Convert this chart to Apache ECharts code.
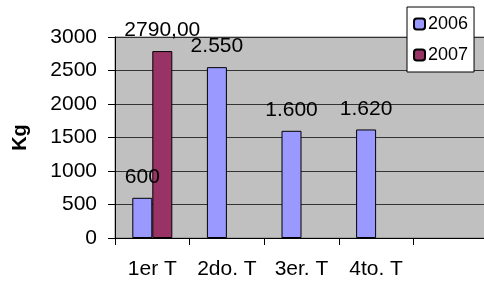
<!DOCTYPE html>
<html>
<head>
<meta charset="utf-8">
<script src="https://cdn.jsdelivr.net/npm/echarts@6/dist/echarts.min.js"></script>
<style>
  html, body { margin: 0; padding: 0; background: #fff; }
  #chart { width: 484px; height: 284px; }
</style>
</head>
<body>
<div id="chart"></div>
<script>
// trimestres (the last slot is empty in the original)
const quarters = ['1er T', '2do. T', '3er. T', '4to. T', ''];
const kg2006 = [600, 2550, 1600, 1620, null];
const kg2007 = [2790, null, null, null, null];
// labels exactly as printed on the bars
const labels2006 = ['600', '2.550', '1.600', '1.620', ''];
const labels2007 = ['2790,00', '', '', '', ''];

const FONT = '"Liberation Sans", Arial, sans-serif';

const barLabel = texts => ({
  show: true,
  position: 'top',
  distance: 10,
  color: '#000',
  fontFamily: FONT,
  fontSize: 21,
  formatter: p => texts[p.dataIndex]
});

const myChart = echarts.init(document.getElementById('chart'));
myChart.setOption({
  animation: false,
  grid: {
    left: 115, width: 373, top: 37, bottom: 46,
    outerBoundsMode: 'none',
    containLabel: false,
    show: true, backgroundColor: '#c0c0c0', borderColor: '#808080', borderWidth: 1
  },
  legend: {
    orient: 'vertical',
    left: 407, top: 7,
    padding: [8, 6, 8, 6],
    itemGap: 13,
    itemWidth: 11, itemHeight: 11,
    backgroundColor: '#fff',
    borderColor: '#000', borderWidth: 1,
    textStyle: { fontFamily: FONT, fontSize: 18, color: '#000', padding: [0, 0, 0, -2] },
    data: ['2006', '2007']
  },
  xAxis: {
    type: 'category',
    data: quarters,
    axisLine: { lineStyle: { color: '#000' } },
    axisTick: { show: true, interval: 0, length: 7, lineStyle: { color: '#000' } },
    axisLabel: { interval: 0, color: '#000', fontFamily: FONT, fontSize: 21, margin: 21 }
  },
  yAxis: {
    type: 'value',
    min: 0, max: 3000, interval: 500,
    name: 'Kg',
    nameLocation: 'middle',
    nameGap: 85,
    nameTextStyle: { fontFamily: FONT, fontSize: 20, fontWeight: 'bold', color: '#000' },
    axisLine: { show: true, lineStyle: { color: '#000' } },
    axisTick: { show: true, length: 7, lineStyle: { color: '#000' } },
    axisLabel: { color: '#000', fontFamily: FONT, fontSize: 21, margin: 18, formatter: v => String(v) },
    splitLine: { lineStyle: { color: '#333', width: 1 } }
  },
  series: [
    {
      name: '2006', type: 'bar', data: kg2006,
      barWidth: 20, barGap: '0%',
      itemStyle: { color: '#9999ff', borderColor: '#000', borderWidth: 1 },
      label: barLabel(labels2006)
    },
    {
      name: '2007', type: 'bar', data: kg2007,
      barWidth: 20,
      itemStyle: { color: '#993366', borderColor: '#000', borderWidth: 1 },
      label: barLabel(labels2007)
    }
  ]
});
</script>
</body>
</html>
